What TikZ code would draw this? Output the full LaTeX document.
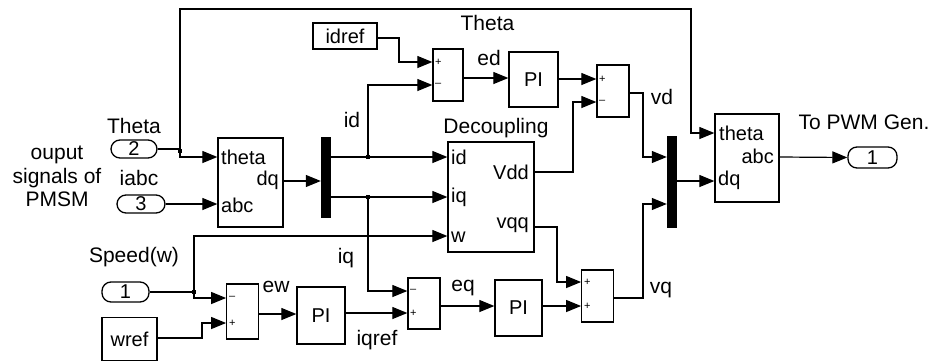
\documentclass[tikz,border=0pt]{standalone}
\usepackage{fontspec}
\setmainfont{Liberation Sans}
\usetikzlibrary{arrows.meta}
\begin{document}
\begin{tikzpicture}[x=1pt,y=-1pt,
  every node/.style={font=\fontsize{20}{24}\selectfont},
  blk/.style={draw, line width=1.3pt, inner sep=0pt},
  mux/.style={fill=black, inner sep=0pt, minimum width=10pt},
  oval/.style={draw, line width=1.3pt, rounded corners=9pt, inner sep=0pt},
  wire/.style={line width=1.2pt, -{Triangle[length=15pt,width=12pt]}},
  ln/.style={line width=1.2pt},
  lbl/.style={inner sep=0pt, font=\fontsize{21}{24}\selectfont},
  plbl/.style={inner sep=0pt},
  sgn/.style={font=\fontsize{11}{12}\selectfont, inner sep=0pt, anchor=west},
  jdot/.style={fill=black, minimum size=4pt, inner sep=0pt}
]
\useasboundingbox (0,0) rectangle (935,362);

% ---- blocks ----
\node[oval, minimum width=46pt, minimum height=18pt] (in2) at (134,149) {2};
\node[oval, minimum width=48pt, minimum height=18pt] (in3) at (141,204) {3};
\node[oval, minimum width=47pt, minimum height=20pt] (inw) at (125.5,292) {1};
\node[oval, minimum width=49pt, minimum height=21pt] (out1) at (872.5,157.5) {1};

\node[blk, minimum width=65pt, minimum height=89pt] (tA) at (250.5,182.5) {};
\node[blk, minimum width=64pt, minimum height=88pt] (tB) at (747,158) {};
\node[mux, minimum height=81pt] (mux1) at (326,177.5) {};
\node[mux, minimum height=92pt] (mux2) at (672,182) {};

\node[blk, minimum width=64pt, minimum height=26pt] (idref) at (345,36) {idref};
\node[blk, minimum width=55pt, minimum height=43pt] (wref) at (129.5,339) {wref};

\node[blk, minimum width=30pt, minimum height=52pt] (sum1) at (448,75) {};
\node[blk, minimum width=32pt, minimum height=52pt] (sumd) at (613,91) {};
\node[blk, minimum width=31.5pt, minimum height=55pt] (sum2) at (242.5,311.5) {};
\node[blk, minimum width=32pt, minimum height=51pt] (sum3) at (424,303.5) {};
\node[blk, minimum width=31.5pt, minimum height=52pt] (sum4) at (597.5,296) {};

\node[blk, minimum width=49pt, minimum height=55pt] (PId) at (533.5,79.5) {PI};
\node[blk, minimum width=48pt, minimum height=57pt] (PI1) at (321,315.5) {PI};
\node[blk, minimum width=47pt, minimum height=56pt] (PI2) at (518.5,308) {PI};

\node[blk, minimum width=86pt, minimum height=110pt] (dec) at (491,197) {};

% ---- port labels ----
\node[plbl, anchor=west] (tAth) at (221,157) {theta};
\node[plbl, anchor=west] (tAabc) at (221,205) {abc};
\node[plbl, anchor=east] (tAdq) at (279,180) {dq};
\node[plbl, anchor=west] (tBth) at (719,133) {theta};
\node[plbl, anchor=east] (tBabc) at (774,156) {abc};
\node[plbl, anchor=west] (tBdq) at (718,180) {dq};
\node[plbl, anchor=west] (dId) at (451,157) {id};
\node[plbl, anchor=west] (dIq) at (451,197) {iq};
\node[plbl, anchor=west] (dW) at (451,237) {w};
\node[plbl, anchor=east] (dVdd) at (529,172) {Vdd};
\node[plbl, anchor=east] (dVqq) at (529,225) {vqq};

% ---- signs ----
\node[sgn] (s1a) at (435,62) {+};
\node[sgn] (s1b) at (435,85) {--};
\node[sgn] (sda) at (599,79) {+};
\node[sgn] (sdb) at (599,102) {--};
\node[sgn] (s2a) at (229,298) {--};
\node[sgn] (s2b) at (229,323) {+};
\node[sgn] (s3a) at (410,291) {--};
\node[sgn] (s3b) at (410,313) {+};
\node[sgn] (s4a) at (584,282) {+};
\node[sgn] (s4b) at (584,306) {+};

% ---- labels ----
\node[lbl] (tTheta) at (134,126) {Theta};
\node[lbl, align=center, font=\fontsize{21}{23.5}\selectfont] (tOut) at (57,176.5) {ouput\\signals of\\PMSM};
\node[lbl] (tIabc) at (139,178) {iabc};
\node[lbl] (tSpeed) at (134,257) {Speed(w)};
\node[lbl] (tEw) at (276,287) {ew};
\node[lbl] (tIqref) at (377,340) {iqref};
\node[lbl] (tIq) at (346,258) {iq};
\node[lbl] (tEq) at (463,288) {eq};
\node[lbl] (tVq) at (661,290) {vq};
\node[lbl] (tVd) at (662,97) {vd};
\node[lbl] (tId) at (352,120) {id};
\node[lbl] (tDec) at (496,128) {Decoupling};
\node[lbl] (tTheta2) at (487.5,23) {Theta};
\node[lbl] (tEd) at (489,58) {ed};
\node[lbl] (tPWM) at (864,122) {To PWM Gen.};

% ---- junctions ----
\node[jdot] (j1) at (180,151) {};
\node[jdot] (jd) at (368,157) {};
\node[jdot] (jq) at (368,197) {};
\node[jdot] (jw) at (194,292) {};

% ---- wires ----
\draw[ln] (in2.east) -- (j1.center |- in2.east);
\draw[wire] (j1.center |- in2.east) -- (180,157) -- (tA.west |- 0,157);
\draw[wire] (j1.center |- in2.east) -- (180,9) -- (691,9) |- (tB.west |- 0,133);
\draw[wire] (in3.east) -- (tA.west |- in3.east);
\draw[wire] (tA.east |- 0,181) -- (mux1.west |- 0,181);
\draw[wire] (mux1.east |- 0,157) -- (dec.west |- 0,157);
\draw[wire] (mux1.east |- 0,197) -- (dec.west |- 0,197);
\draw[wire] (jd.center) -- (368,85) -- (sum1.west |- 0,85);
\draw[wire] (jq.center) -- (368,291) -- (sum3.west |- 0,291);
\draw[wire] (idref.east |- 0,38) -- (399,38) |- (sum1.west |- 0,62);
\draw[wire] (sum1.east |- 0,78) -- (PId.west |- 0,78);
\draw[wire] (PId.east |- 0,79) -- (sumd.west |- 0,79);
\draw[wire] (dec.east |- 0,172) -- (573,172) |- (sumd.west |- 0,102);
\draw[wire] (sumd.east |- 0,93) -- (643,93) |- (mux2.west |- 0,157);
\draw[wire] (sum4.east |- 0,298) -- (643,298) |- (mux2.west |- 0,204);
\draw[wire] (mux2.east |- 0,181) -- (tB.west |- 0,181);
\draw[wire] (tB.east |- 0,157) -- (out1.west);
\draw[ln] (inw.east) -- (jw.center);
\draw[wire] (jw.center) -- (194,236) -- (dec.west |- 0,236);
\draw[wire] (jw.center) -- (194,298) -- (sum2.west |- 0,298);
\draw[wire] (wref.east |- 0,338) -- (202,338) |- (sum2.west |- 0,323);
\draw[wire] (sum2.east |- 0,314) -- (PI1.west |- 0,314);
\draw[wire] (PI1.east |- 0,313) -- (sum3.west |- 0,313);
\draw[wire] (sum3.east |- 0,306) -- (PI2.west |- 0,306);
\draw[wire] (PI2.east |- 0,306) -- (sum4.west |- 0,306);
\draw[wire] (dec.east |- 0,227) -- (557,227) |- (sum4.west |- 0,282);
\end{tikzpicture}
\end{document}
